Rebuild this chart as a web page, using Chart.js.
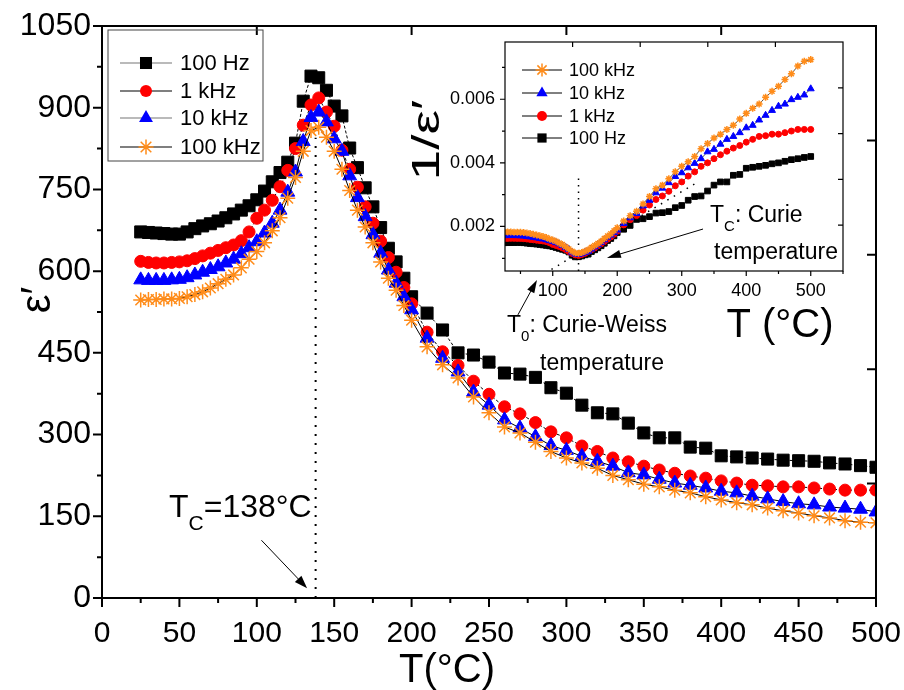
<!DOCTYPE html>
<html>
<head>
<meta charset="utf-8">
<title>Dielectric constant vs temperature</title>
<script src="https://cdn.jsdelivr.net/npm/chart.js@4.4.1/dist/chart.umd.min.js"></script>
<style>
  body { margin: 0; background: #fff; }
  #wrap { position: relative; width: 904px; height: 690px; overflow: hidden; }
  canvas { position: absolute; }
  #main { left: 0; top: 0; }
  #inset { left: 400px; top: 30px; }
</style>
</head>
<body>
<div id="wrap">
  <canvas id="main" width="904" height="690"></canvas>
  <canvas id="inset" width="504" height="360"></canvas>
</div>
<script>
// measurement temperatures (°C), shared by all series
const temps = [25, 30, 35, 40, 45, 50, 55, 60, 65, 70, 75, 80, 85, 90, 95, 100, 105, 110, 115, 120,
  125, 130, 135, 140, 145, 150, 155, 160, 165, 170, 175, 180, 185, 190, 195, 200,
  210, 220, 230, 240, 250, 260, 270, 280, 290, 300, 310, 320, 330, 340, 350, 360, 370, 380, 390, 400,
  410, 420, 430, 440, 450, 460, 470, 480, 490, 500];

// real permittivity eps' (main plot)
const eps100Hz = [672, 671, 670, 669, 668, 668, 672, 678, 683, 687, 692, 698, 705, 712, 720, 731, 747, 764, 781, 800,
  835, 912, 958, 955, 932, 903, 885, 826, 790, 753, 718, 680, 642, 617, 587, 553,
  523, 492, 450, 446, 433, 413, 411, 405, 386, 376, 354, 340, 338, 321, 303, 294, 294, 277, 275, 261,
  259, 257, 255, 253, 252, 251, 248, 246, 243, 240];
const eps1kHz = [618, 616, 615, 615, 616, 617, 619, 623, 628, 633, 638, 643, 648, 656, 672, 697, 712, 730, 755, 785,
  825, 868, 905, 918, 892, 866, 822, 787, 754, 718, 688, 655, 625, 598, 570, 540,
  488, 452, 427, 398, 374, 351, 338, 322, 305, 294, 279, 269, 257, 250, 242, 235, 229, 224, 220, 215,
  211, 207, 206, 204, 204, 202, 200, 198, 198, 198];
const eps10kHz = [584, 583, 583, 583, 584, 585, 588, 593, 598, 603, 608, 615, 622, 632, 643, 654, 670, 688, 712, 745,
  782, 838, 882, 892, 874, 843, 820, 775, 735, 700, 667, 633, 602, 578, 553, 529,
  477, 440, 415, 378, 354, 327, 312, 296, 280, 271, 260, 251, 242, 230, 226, 218, 211, 207, 202, 196,
  193, 187, 182, 177, 173, 171, 167, 165, 163, 158];
const eps100kHz = [547, 548, 548, 549, 549, 550, 553, 557, 562, 569, 577, 585, 593, 606, 622, 636, 652, 674, 698, 734,
  772, 820, 858, 864, 846, 820, 787, 748, 712, 681, 652, 617, 587, 565, 537, 510,
  461, 428, 404, 369, 340, 314, 303, 286, 269, 257, 248, 238, 225, 217, 209, 204, 198, 193, 186, 180,
  175, 171, 165, 160, 156, 151, 147, 142, 139, 138];

// inverse permittivity 1/eps' (inset)
const inv100Hz = [0.001488, 0.00149, 0.001493, 0.001495, 0.001497, 0.001497, 0.001488, 0.001475, 0.001464, 0.001456,
  0.001445, 0.001433, 0.001418, 0.001404, 0.001389, 0.001368, 0.001339, 0.001309, 0.00128, 0.00125,
  0.001198, 0.001096, 0.001044, 0.001047, 0.001073, 0.001107, 0.00113, 0.001211, 0.001266, 0.001328,
  0.001393, 0.001471, 0.001558, 0.001621, 0.001704, 0.001808,
  0.001912, 0.002033, 0.002222, 0.002242, 0.002309, 0.002421, 0.002433, 0.002469, 0.002591, 0.00266,
  0.002825, 0.002941, 0.002959, 0.003115, 0.0033, 0.003401, 0.003401, 0.00361, 0.003636, 0.003831,
  0.003861, 0.003891, 0.003922, 0.00397, 0.0040, 0.00405, 0.0041, 0.00413, 0.00417, 0.0042];
const inv1kHz = [0.001618, 0.001623, 0.001626, 0.001626, 0.001623, 0.001621, 0.001616, 0.001605, 0.001592, 0.00158,
  0.001567, 0.001555, 0.001543, 0.001524, 0.001488, 0.001435, 0.001404, 0.00137, 0.001325, 0.001274,
  0.001212, 0.001152, 0.001105, 0.001089, 0.001121, 0.001155, 0.001217, 0.001271, 0.001326, 0.001393,
  0.001453, 0.001527, 0.0016, 0.001672, 0.001754, 0.001852,
  0.002049, 0.002212, 0.002342, 0.002513, 0.002674, 0.002849, 0.002959, 0.003106, 0.003279, 0.003401,
  0.003584, 0.003717, 0.003891, 0.004, 0.004132, 0.004255, 0.004367, 0.004464, 0.004545, 0.004651,
  0.004739, 0.004831, 0.004854, 0.004902, 0.004902, 0.00495, 0.005, 0.005051, 0.005051, 0.005051];
const inv10kHz = [0.001712, 0.001715, 0.001715, 0.001715, 0.001712, 0.001709, 0.001701, 0.001686, 0.001672, 0.001658,
  0.001645, 0.001626, 0.001608, 0.001582, 0.001555, 0.001529, 0.001493, 0.001453, 0.001404, 0.001342,
  0.001279, 0.001193, 0.001134, 0.001121, 0.001144, 0.001186, 0.00122, 0.00129, 0.001361, 0.001429,
  0.001499, 0.00158, 0.001661, 0.00173, 0.001808, 0.00189,
  0.002096, 0.002273, 0.00241, 0.002646, 0.002825, 0.003058, 0.003205, 0.003378, 0.003571, 0.00369,
  0.003846, 0.003984, 0.004132, 0.004348, 0.004425, 0.004587, 0.004739, 0.004831, 0.00495, 0.005102,
  0.005181, 0.005348, 0.005495, 0.00565, 0.00578, 0.005848, 0.005988, 0.006061, 0.006135, 0.006329];
const inv100kHz = [0.001828, 0.001825, 0.001825, 0.001821, 0.001821, 0.001818, 0.001808, 0.001795, 0.001779, 0.001757,
  0.001733, 0.001709, 0.001686, 0.00165, 0.001608, 0.001572, 0.001534, 0.001484, 0.001433, 0.001362,
  0.001295, 0.00122, 0.001166, 0.001157, 0.001182, 0.00122, 0.001271, 0.001337, 0.001404, 0.001468,
  0.001534, 0.001621, 0.001704, 0.00177, 0.001862, 0.001961,
  0.002169, 0.002336, 0.002475, 0.00271, 0.002941, 0.003185, 0.0033, 0.003497, 0.003717, 0.003891,
  0.004032, 0.004202, 0.004444, 0.004608, 0.004785, 0.004902, 0.005051, 0.005181, 0.005376, 0.005556,
  0.005714, 0.005848, 0.006061, 0.00625, 0.00641, 0.006623, 0.006803, 0.007042, 0.007194, 0.007246];

const seriesLabels = ['100 Hz', '1 kHz', '10 kHz', '100 kHz'];

// tick labels
const mainXTicks = [0, 50, 100, 150, 200, 250, 300, 350, 400, 450, 500];
const mainYTicks = [0, 150, 300, 450, 600, 750, 900, 1050];
const insetXTicks = [100, 200, 300, 400, 500];
const insetXMinor = [50, 150, 250, 350, 450, 550];
const insetYTicks = [0.002, 0.004, 0.006];
const insetYMinor = [0.001, 0.003, 0.005, 0.007];

// annotations
const curieTemp = 138;          // main dotted line
const curieDotTop = 845;
const insetCurieTemp = 140;     // inset dotted line
const insetCurieDotTop = 0.00363;
const cwFitT = [98, 325];       // Curie-Weiss extrapolation in inset
const cwFitInv = [0.00065, 0.0034];

const FONT = "'Liberation Sans', Arial, sans-serif";

const looks = [
  { shape: 'rect',     color: '#000000', dash: [3, 2], order: 4, r: 8.5, ri: 4,   legendLine: '#777' },
  { shape: 'circle',   color: '#ff0000', dash: [3, 2], order: 3, r: 6,   ri: 3,   legendLine: '#000' },
  { shape: 'triangle', color: '#0000ff', dash: [],     order: 2, r: 8,   ri: 4,   legendLine: '#777' },
  { shape: 'star',     color: '#ff8c1a', dash: [],     order: 1, r: 7.5, ri: 3.5, legendLine: '#000' }
];

function pts(ys) { return temps.map((t, i) => ({ x: t, y: ys[i] })); }

function series(ys, k, inset) {
  const s = looks[k];
  return {
    label: seriesLabels[k],
    data: pts(ys),
    order: s.order,
    borderColor: '#000',
    borderWidth: inset ? 0.7 : 1,
    borderDash: inset ? [] : s.dash,
    pointStyle: s.shape,
    pointRadius: inset ? s.ri : s.r,
    pointBackgroundColor: s.color,
    pointBorderColor: s.color,
    pointBorderWidth: s.shape === 'star' ? 1.5 : 1,
    tension: 0
  };
}

function marker(ctx, shape, x, y, r, color) {
  ctx.save();
  ctx.fillStyle = color;
  ctx.strokeStyle = color;
  ctx.lineWidth = 1.5;
  ctx.setLineDash([]);
  ctx.beginPath();
  if (shape === 'rect') {
    const s = r * Math.SQRT1_2;
    ctx.fillRect(x - s, y - s, 2 * s, 2 * s);
  } else if (shape === 'circle') {
    ctx.arc(x, y, r, 0, Math.PI * 2);
    ctx.fill();
  } else if (shape === 'triangle') {
    ctx.moveTo(x, y - r);
    ctx.lineTo(x + 0.866 * r, y + 0.5 * r);
    ctx.lineTo(x - 0.866 * r, y + 0.5 * r);
    ctx.closePath();
    ctx.fill();
  } else {
    for (let k = 0; k < 4; k++) {
      const a = k * Math.PI / 4;
      ctx.moveTo(x - Math.cos(a) * r, y - Math.sin(a) * r);
      ctx.lineTo(x + Math.cos(a) * r, y + Math.sin(a) * r);
    }
    ctx.stroke();
  }
  ctx.restore();
}

function arrow(ctx, x1, y1, x2, y2, len, half) {
  const a = Math.atan2(y2 - y1, x2 - x1);
  ctx.beginPath();
  ctx.moveTo(x1, y1);
  ctx.lineTo(x2 - Math.cos(a) * len * 0.8, y2 - Math.sin(a) * len * 0.8);
  ctx.stroke();
  ctx.beginPath();
  ctx.moveTo(x2, y2);
  ctx.lineTo(x2 - Math.cos(a) * len - Math.sin(a) * half, y2 - Math.sin(a) * len + Math.cos(a) * half);
  ctx.lineTo(x2 - Math.cos(a) * len + Math.sin(a) * half, y2 - Math.sin(a) * len - Math.cos(a) * half);
  ctx.closePath();
  ctx.fill();
}

// text with subscript, e.g. T_C
function subText(ctx, x, y, main, sub, rest, size) {
  ctx.font = size + 'px ' + FONT;
  ctx.fillText(main, x, y);
  x += ctx.measureText(main).width;
  ctx.font = Math.round(size * 0.65) + 'px ' + FONT;
  ctx.fillText(sub, x, y + size * 0.4);
  x += ctx.measureText(sub).width;
  ctx.font = size + 'px ' + FONT;
  ctx.fillText(rest, x, y);
}

const mainDecor = {
  id: 'mainDecor',
  afterDraw(chart) {
    const { ctx, chartArea: a, scales: { x, y } } = chart;
    ctx.save();
    ctx.strokeStyle = '#000';
    ctx.fillStyle = '#000';
    ctx.lineWidth = 2;
    ctx.strokeRect(a.left, a.top, a.right - a.left, a.bottom - a.top);

    ctx.beginPath();
    mainYTicks.forEach((v, i) => {
      const py = y.getPixelForValue(v);
      ctx.moveTo(a.left - 9, py); ctx.lineTo(a.left, py);
      if (i > 0) {
        const pm = y.getPixelForValue((v + mainYTicks[i - 1]) / 2);
        ctx.moveTo(a.left - 5, pm); ctx.lineTo(a.left, pm);
      }
    });
    mainXTicks.forEach((v, i) => {
      const px = x.getPixelForValue(v);
      ctx.moveTo(px, a.bottom); ctx.lineTo(px, a.bottom + 9);
      if (i > 0) {
        const pm = x.getPixelForValue((v + mainXTicks[i - 1]) / 2);
        ctx.moveTo(pm, a.bottom); ctx.lineTo(pm, a.bottom + 5);
      }
    });
    // inward ticks on the opposite frame sides
    for (let k = 1; k < 5; k++) {
      const px = a.left + (a.right - a.left) * k / 5;
      ctx.moveTo(px, a.top); ctx.lineTo(px, a.top + 9);
      const py = a.top + (a.bottom - a.top) * k / 5;
      ctx.moveTo(a.right, py); ctx.lineTo(a.right - 9, py);
    }
    ctx.stroke();

    // axis titles
    ctx.textBaseline = 'alphabetic';
    ctx.textAlign = 'center';
    ctx.font = '40px ' + FONT;
    ctx.fillText('T(°C)', a.left + 345, a.bottom + 84);
    ctx.save();
    ctx.translate(a.left - 64, a.top + 274);
    ctx.rotate(-Math.PI / 2);
    ctx.textBaseline = 'middle';
    ctx.font = '42px ' + FONT;
    ctx.fillText('ε′', 0, 0);
    ctx.restore();

    // T_C label and arrow
    ctx.textAlign = 'left';
    subText(ctx, a.left + 67, a.bottom - 81, 'T', 'C', '=138°C', 32);
    ctx.lineWidth = 1;
    arrow(ctx, x.getPixelForValue(103), y.getPixelForValue(106),
      x.getPixelForValue(132.5), y.getPixelForValue(18), 13, 4.5);

    // legend
    const lx = a.left + 6, ly = a.top + 4;
    ctx.lineWidth = 1;
    ctx.strokeStyle = '#444';
    ctx.strokeRect(lx, ly, 155, 131);
    const rows = [33, 61, 88, 117];
    ctx.font = '22px ' + FONT;
    ctx.textBaseline = 'middle';
    looks.forEach((s, k) => {
      const ry = ly + rows[k];
      ctx.strokeStyle = s.legendLine;
      ctx.lineWidth = 1.2;
      ctx.beginPath();
      ctx.moveTo(lx + 12, ry); ctx.lineTo(lx + 64, ry);
      ctx.stroke();
      marker(ctx, s.shape, lx + 38, ry, s.r, s.color);
      ctx.fillStyle = '#000';
      ctx.fillText(seriesLabels[k], lx + 72, ry + 1);
    });
    ctx.restore();
  }
};

const insetDecor = {
  id: 'insetDecor',
  afterDraw(chart) {
    const { ctx, chartArea: a, scales: { x, y } } = chart;
    ctx.save();
    ctx.strokeStyle = '#000';
    ctx.fillStyle = '#000';
    ctx.lineWidth = 1.2;
    ctx.strokeRect(a.left, a.top, a.right - a.left, a.bottom - a.top);
    ctx.beginPath();
    insetYTicks.forEach(v => {
      const py = y.getPixelForValue(v);
      ctx.moveTo(a.left - 5, py); ctx.lineTo(a.left, py);
    });
    insetYMinor.forEach(v => {
      const py = y.getPixelForValue(v);
      ctx.moveTo(a.left - 3, py); ctx.lineTo(a.left, py);
    });
    insetXTicks.forEach(v => {
      const px = x.getPixelForValue(v);
      ctx.moveTo(px, a.bottom); ctx.lineTo(px, a.bottom + 5);
    });
    insetXMinor.forEach(v => {
      const px = x.getPixelForValue(v);
      ctx.moveTo(px, a.bottom); ctx.lineTo(px, a.bottom + 3);
    });
    for (let k = 1; k < 5; k++) {
      const px = a.left + (a.right - a.left) * k / 5;
      ctx.moveTo(px, a.top); ctx.lineTo(px, a.top + 5);
      const py = a.top + (a.bottom - a.top) * k / 5;
      ctx.moveTo(a.right, py); ctx.lineTo(a.right - 5, py);
    }
    ctx.stroke();

    // titles
    ctx.textAlign = 'center';
    ctx.textBaseline = 'alphabetic';
    ctx.font = '40px ' + FONT;
    ctx.fillText('T (°C)', a.left + 275, a.top + 295);
    ctx.save();
    ctx.translate(a.left - 76, a.top + 98);
    ctx.rotate(-Math.PI / 2);
    ctx.scale(1.45, 1);
    ctx.textBaseline = 'middle';
    ctx.font = '38px ' + FONT;
    ctx.fillText('1/ε′', 0, 0);
    ctx.restore();

    // annotations
    ctx.textAlign = 'left';
    subText(ctx, a.left + 205, a.top + 180, 'T', 'C', ': Curie', 23);
    ctx.textAlign = 'right';
    ctx.font = '23px ' + FONT;
    ctx.fillText('temperature', a.right - 5, a.top + 217);
    ctx.textAlign = 'left';
    subText(ctx, a.left + 2, a.top + 290, 'T', '0', ': Curie-Weiss', 23);
    ctx.font = '23px ' + FONT;
    ctx.fillText('temperature', a.left + 35, a.top + 328);
    ctx.lineWidth = 1;
    arrow(ctx, x.getPixelForValue(333), y.getPixelForValue(0.00192),
      x.getPixelForValue(184), y.getPixelForValue(0.00101), 14, 4);
    arrow(ctx, x.getPixelForValue(46), y.getPixelForValue(-0.00078),
      x.getPixelForValue(75.6), y.getPixelForValue(0.00032), 13, 4);

    // legend
    const rows = [28, 51, 74, 96];
    const legendOrder = [3, 2, 1, 0];
    ctx.font = '18px ' + FONT;
    ctx.textBaseline = 'middle';
    legendOrder.forEach((k, r) => {
      const s = looks[k];
      const ry = a.top + rows[r];
      ctx.strokeStyle = '#000';
      ctx.lineWidth = 1;
      ctx.beginPath();
      ctx.moveTo(a.left + 17, ry); ctx.lineTo(a.left + 57, ry);
      ctx.stroke();
      marker(ctx, s.shape, a.left + 37, ry, s.shape === 'circle' ? 5 : 6.5, s.color);
      ctx.fillStyle = '#000';
      ctx.fillText(seriesLabels[k], a.left + 64, ry + 1);
    });
    ctx.restore();
  }
};

const hiddenGrid = { display: false, drawTicks: false };
const plain = v => String(v);

new Chart(document.getElementById('main'), {
  type: 'line',
  data: {
    datasets: [
      series(eps100Hz, 0, false),
      series(eps1kHz, 1, false),
      series(eps10kHz, 2, false),
      series(eps100kHz, 3, false),
      {
        data: [{ x: curieTemp, y: 0 }, { x: curieTemp, y: curieDotTop }],
        order: 10, borderColor: '#000', borderWidth: 2, borderDash: [2, 7], pointRadius: 0
      }
    ]
  },
  options: {
    responsive: false,
    animation: false,
    devicePixelRatio: 1,
    layout: { padding: { top: 26, right: 28, left: 0, bottom: 0 } },
    plugins: { legend: { display: false }, tooltip: { enabled: false } },
    scales: {
      x: {
        type: 'linear', min: 0, max: 500,
        afterBuildTicks: s => { s.ticks = mainXTicks.map(v => ({ value: v })); },
        afterFit: s => { s.height = 92; s.paddingLeft = 0; s.paddingRight = 0; },
        grid: hiddenGrid, border: { display: false },
        ticks: { font: { family: FONT, size: 30 }, color: '#000', padding: 18, maxRotation: 0, autoSkip: false,
          callback: plain }
      },
      y: {
        type: 'linear', min: 0, max: 1050,
        afterBuildTicks: s => { s.ticks = mainYTicks.map(v => ({ value: v })); },
        afterFit: s => { s.width = 102; s.paddingTop = 0; s.paddingBottom = 0; },
        grid: hiddenGrid, border: { display: false },
        ticks: { font: { family: FONT, size: 32 }, color: '#000', padding: 11, autoSkip: false,
          callback: plain }
      }
    }
  },
  plugins: [mainDecor]
});

new Chart(document.getElementById('inset'), {
  type: 'line',
  data: {
    datasets: [
      series(inv100Hz, 0, true),
      series(inv1kHz, 1, true),
      series(inv10kHz, 2, true),
      series(inv100kHz, 3, true),
      {
        data: [{ x: insetCurieTemp, y: 0.0006 }, { x: insetCurieTemp, y: insetCurieDotTop }],
        order: 10, borderColor: '#000', borderWidth: 1.5, borderDash: [1.5, 5], pointRadius: 0
      },
      {
        data: [{ x: cwFitT[0], y: cwFitInv[0] }, { x: cwFitT[1], y: cwFitInv[1] }],
        order: 11, borderColor: '#000', borderWidth: 1.5, borderDash: [1.5, 6], pointRadius: 0
      }
    ]
  },
  options: {
    responsive: false,
    animation: false,
    devicePixelRatio: 1,
    layout: { padding: { top: 12, right: 61, left: 0, bottom: 0 } },
    plugins: { legend: { display: false }, tooltip: { enabled: false } },
    scales: {
      x: {
        type: 'linear', min: 26, max: 550,
        afterBuildTicks: s => { s.ticks = insetXTicks.map(v => ({ value: v })); },
        afterFit: s => { s.height = 119; s.paddingLeft = 0; s.paddingRight = 0; },
        grid: hiddenGrid, border: { display: false },
        ticks: { font: { family: FONT, size: 18 }, color: '#000', padding: 9, maxRotation: 0, autoSkip: false,
          callback: plain }
      },
      y: {
        type: 'linear', min: 0.0006, max: 0.0078,
        afterBuildTicks: s => { s.ticks = insetYTicks.map(v => ({ value: v })); },
        afterFit: s => { s.width = 105; s.paddingTop = 0; s.paddingBottom = 0; },
        grid: hiddenGrid, border: { display: false },
        ticks: { font: { family: FONT, size: 18 }, color: '#000', padding: 10, autoSkip: false,
          callback: v => v.toFixed(3) }
      }
    }
  },
  plugins: [insetDecor]
});
</script>
</body>
</html>
